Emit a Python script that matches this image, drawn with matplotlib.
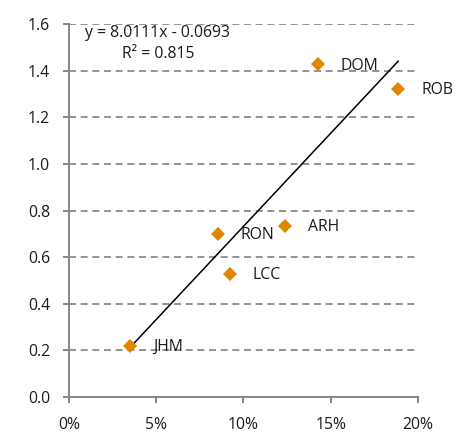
import matplotlib.pyplot as plt
import numpy as np
from matplotlib.ticker import FuncFormatter

plt.rcParams['font.family'] = ['Open Sans', 'DejaVu Sans']

names = ['JHM', 'RON', 'LCC', 'ARH', 'DOM', 'ROB']
x_vals = [0.0353, 0.0852, 0.0922, 0.1237, 0.1424, 0.1886]
y_vals = [0.219, 0.699, 0.527, 0.735, 1.428, 1.322]
slope = 8.0111
intercept = -0.0693
r2 = 0.815

fig = plt.figure(figsize=(4.62, 4.38), dpi=100)
ax = fig.add_axes([0.149, 0.0943, 0.756, 0.8502])

grid_col = '#939393'
for yv in np.arange(0.2, 1.61, 0.2):
    ax.axhline(yv, color=grid_col, lw=1.4, dashes=(3.6, 2.4), zorder=1)

# trendline over the data range
xs = np.array([min(x_vals), max(x_vals)])
ax.plot(xs, slope * xs + intercept, color='black', lw=1.1, zorder=2)

ax.plot(x_vals, y_vals, 'D', color='#E08600', ms=7.4, mew=0, zorder=3)

fs = 11.3
for n, xv, yv in zip(names, x_vals, y_vals):
    ax.annotate(n, (xv, yv), xytext=(16.5, -1), textcoords='offset points',
                ha='left', va='center', fontsize=fs, color='#1a1a1a', zorder=4)

ax.text(0.051, 1.563, 'y = 8.0111x - 0.0693', ha='center', va='center',
        fontsize=fs, color='#1a1a1a')
ax.text(0.051, 1.472, 'R² = %.3f' % r2, ha='center', va='center',
        fontsize=fs, color='#1a1a1a')

ax.set_xlim(0, 0.20)
ax.set_ylim(0, 1.6)
ax.set_xticks(np.arange(0, 0.201, 0.05))
ax.set_yticks(np.arange(0, 1.61, 0.2))
ax.xaxis.set_major_formatter(FuncFormatter(lambda v, p: '%d%%' % round(v * 100)))
ax.yaxis.set_major_formatter(FuncFormatter(lambda v, p: '%.1f' % v))

for s in ['top', 'right']:
    ax.spines[s].set_visible(False)
for s in ['left', 'bottom']:
    ax.spines[s].set_color('#868686')
    ax.spines[s].set_linewidth(1.4)
ax.tick_params(axis='both', colors='#868686', width=1.4, length=4.5,
               labelsize=fs, labelcolor='#1a1a1a')
ax.tick_params(axis='y', pad=9)
ax.tick_params(axis='x', pad=10)
ax.set_facecolor('none')

fig.savefig('out.png', dpi=100)
